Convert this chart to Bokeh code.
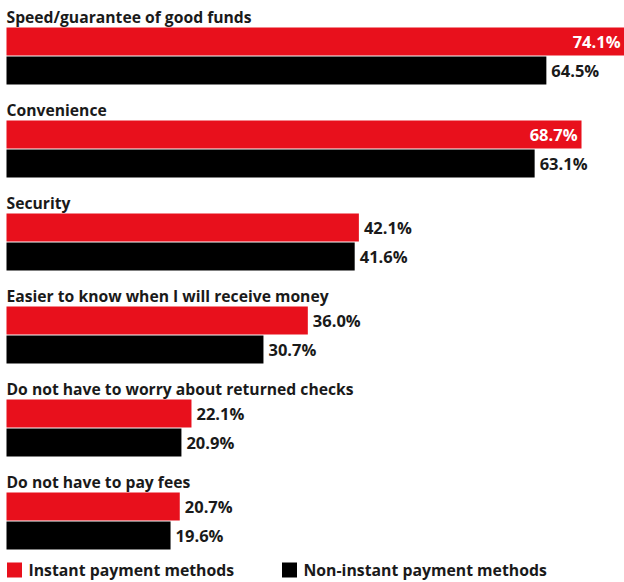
from bokeh.plotting import figure
from bokeh.models import Range1d, ColumnDataSource
from bokeh.core.properties import value
from bokeh.embed import file_html
from bokeh.resources import INLINE

categories = [
    "Speed/guarantee of good funds",
    "Convenience",
    "Security",
    "Easier to know when I will receive money",
    "Do not have to worry about returned checks",
    "Do not have to pay fees",
]
instant = [74.1, 68.7, 42.1, 36.0, 22.1, 20.7]
non_instant = [64.5, 63.1, 41.6, 30.7, 20.9, 19.6]
series_names = ["Instant payment methods", "Non-instant payment methods"]

RED = "#e8101c"
BLACK = "#000000"
FONT = "Open Sans"
TXT = "#1a1a1a"

W, H = 624, 582
LEFT = 6
PX_PER_UNIT = 8.37
x_start = -LEFT / PX_PER_UNIT
x_end = (W - LEFT) / PX_PER_UNIT

p = figure(width=W, height=H, output_backend="svg", toolbar_location=None,
           x_range=Range1d(x_start, x_end), y_range=Range1d(H, 0),
           min_border=0, min_border_left=0, min_border_right=0,
           min_border_top=0, min_border_bottom=0)
p.axis.visible = False
p.grid.visible = False
p.outline_line_color = None
p.background_fill_color = "white"
p.border_fill_color = "white"

PERIOD = 93
FIRST_TOP = 27
BAR_H = 28

red_c, blk_c, title_y = [], [], []
for i in range(len(categories)):
    top = FIRST_TOP + PERIOD * i
    red_c.append(top + BAR_H / 2)
    blk_c.append(top + BAR_H + 1 + BAR_H / 2)
    title_y.append(top - 11)

p.hbar(y=red_c, height=BAR_H, left=0, right=instant, color=RED, line_color=None)
p.hbar(y=blk_c, height=BAR_H, left=0, right=non_instant, color=BLACK, line_color=None)

p.text(x=[0] * len(categories), y=title_y, text=categories,
       text_font=value(FONT), text_font_style="bold", text_font_size="15.7px",
       text_color=TXT, text_baseline="middle", text_align="left")

def fits_outside(v):
    return LEFT + v * PX_PER_UNIT + 58 < W

def labels(vals, centers):
    out = dict(x=[], y=[], t=[])
    ins = dict(x=[], y=[], t=[])
    for v, c in zip(vals, centers):
        d = out if fits_outside(v) else ins
        d["x"].append(min(v, x_end))
        d["y"].append(c)
        d["t"].append(f"{v:.1f}%")
    p.text(x="x", y="y", text="t", source=ColumnDataSource(out), x_offset=5,
           text_font=value(FONT), text_font_style="bold", text_font_size="16.5px",
           text_color=TXT, text_baseline="middle", text_align="left")
    p.text(x="x", y="y", text="t", source=ColumnDataSource(ins), x_offset=-4,
           text_font=value(FONT), text_font_style="bold", text_font_size="16.5px",
           text_color="white", text_baseline="middle", text_align="right")

labels(instant, red_c)
labels(non_instant, blk_c)

# Legend
LEG_Y = 569.5
leg_x_px = [LEFT, 281]
leg_x = [(x - LEFT) / PX_PER_UNIT for x in leg_x_px]
p.rect(x=[x + 8 / PX_PER_UNIT for x in leg_x], y=[LEG_Y, LEG_Y], width=15 / PX_PER_UNIT,
       height=15, color=[RED, BLACK], line_color=None)
p.text(x=[x + 22 / PX_PER_UNIT for x in leg_x], y=[LEG_Y, LEG_Y], text=series_names,
       text_font=value(FONT), text_font_style="bold", text_font_size="15.8px",
       text_color=TXT, text_baseline="middle", text_align="left")

open("out.html", "w").write(file_html(p, INLINE))
